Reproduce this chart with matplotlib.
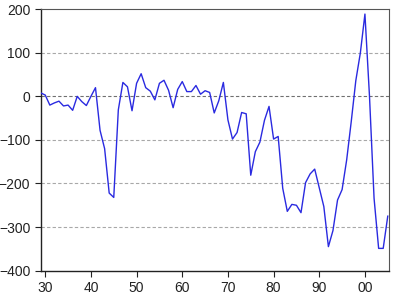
import numpy as np
import matplotlib
matplotlib.use('Agg')
import matplotlib.pyplot as plt
from matplotlib.ticker import FuncFormatter

# Annual series, 1929-2005
years = np.arange(1929, 2006)
values = [8, 3, -20, -15, -11, -22, -20, -32, 0, -12,
          -21, 0, 20, -78, -120, -222, -232, -31, 32, 22,
          -33, 30, 52, 20, 12, -8, 30, 37, 14, -26,
          16, 34, 11, 11, 25, 5, 13, 9, -38, -10,
          32, -54, -98, -83, -37, -40, -181, -127, -105, -55,
          -23, -98, -92, -211, -264, -248, -250, -267, -198, -178,
          -167, -210, -253, -345, -308, -238, -214, -146, -58, 36,
          100, 189, 0, -234, -349, -349, -275]
x_ticks = [1930, 1940, 1950, 1960, 1970, 1980, 1990, 2000]
y_ticks = [-400, -300, -200, -100, 0, 100, 200]

plt.rcParams['font.family'] = ['Liberation Sans', 'DejaVu Sans']

fig = plt.figure(figsize=(3.95, 2.99), dpi=100)
ax = fig.add_axes([0.103, 0.095, 0.881, 0.874])

# dashed reference lines like EViews
for yv in [100, -100, -200, -300]:
    ax.axhline(yv, color='#a8a8a8', linestyle=(0, (3, 2)), linewidth=0.8, zorder=1)
ax.axhline(0, color='#707070', linestyle=(0, (3, 2)), linewidth=0.8, zorder=1)

ax.plot(years, values, color='#2a2ae0', linewidth=1.0, zorder=3)

ax.set_xlim(1929, 2005.2)
ax.set_ylim(-400, 200)
ax.set_xticks(x_ticks)
ax.set_yticks(y_ticks)
ax.xaxis.set_major_formatter(FuncFormatter(lambda v, p: '%02d' % (int(round(v)) % 100)))
ax.tick_params(direction='out', length=4, width=0.8, labelsize=10, colors='#222222')

for side in ['left', 'bottom']:
    ax.spines[side].set_color('#222222')
    ax.spines[side].set_linewidth(1.0)
for side in ['top', 'right']:
    ax.spines[side].set_color('#555555')
    ax.spines[side].set_linewidth(0.8)

fig.savefig('out.png', dpi=100)
